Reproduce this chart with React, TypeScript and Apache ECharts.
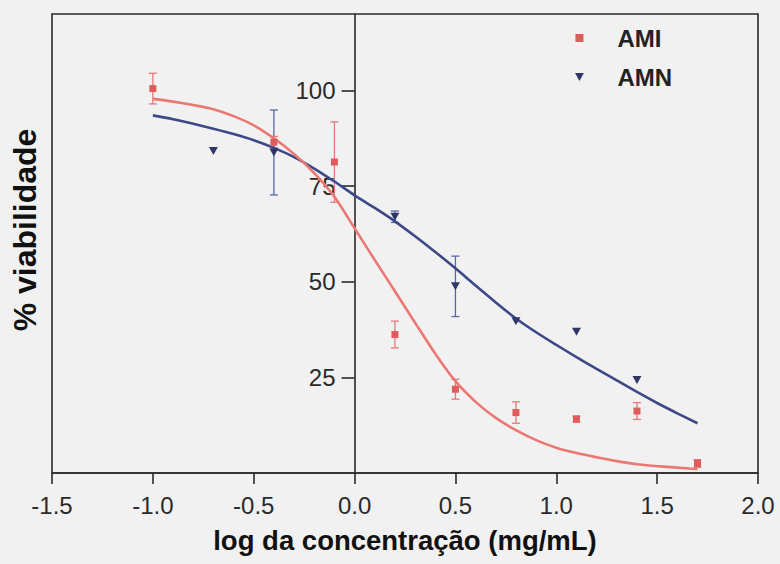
import React, { useEffect, useRef } from 'react';
import * as echarts from 'echarts';

// Axis ticks
const xTicks = [-1.5, -1.0, -0.5, 0.0, 0.5, 1.0, 1.5, 2.0];
const yTicks = [25, 50, 75, 100];

// AMI measured points (mean, error)
const amiX = [-1.0, -0.4, -0.1, 0.2, 0.5, 0.8, 1.1, 1.4, 1.7];
const amiY = [100.5, 86.5, 81.3, 36.2, 21.9, 15.8, 14.1, 16.2, 2.5];
const amiErr = [4.0, 1.5, 10.5, 3.5, 2.6, 2.8, 0.8, 2.2, 1.0];

// AMN measured points (mean, error)
const amnX = [-0.7, -0.4, 0.2, 0.5, 0.8, 1.1, 1.4];
const amnY = [84.2, 83.8, 67.0, 48.8, 39.7, 36.9, 24.3];
const amnErr = [0, 11.1, 1.5, 7.9, 0, 0, 0];

// Fitted curves (every 0.1 on the x axis)
const fitX = [-1.0, -0.9, -0.8, -0.7, -0.6, -0.5, -0.4, -0.3, -0.2, -0.1, 0.0, 0.1, 0.2, 0.3, 0.4, 0.5, 0.6, 0.7, 0.8, 0.9, 1.0, 1.1, 1.2, 1.3, 1.4, 1.5, 1.6, 1.7];
const amiFit = [97.8, 97.1, 96.2, 95.1, 93.3, 90.9, 87.5, 83.4, 78.4, 72.2, 64.0, 55.7, 47.5, 39.3, 31.2, 24.0, 18.6, 14.4, 11.2, 8.6, 6.6, 5.2, 4.1, 3.1, 2.3, 1.8, 1.4, 1.0];
const amnFit = [93.5, 92.5, 91.3, 90.0, 88.6, 87.0, 85.0, 82.6, 79.6, 76.2, 72.6, 69.3, 65.8, 61.9, 57.8, 53.5, 49.0, 44.6, 40.4, 36.8, 33.5, 30.3, 27.2, 24.2, 21.2, 18.3, 15.6, 13.0];

const AMI_LINE = '#ec7874';
const AMI_MARK = '#e05c5c';
const AMI_BAR = '#e37a7a';
const AMN_LINE = '#3d4887';
const AMN_MARK = '#2e3868';
const AMN_BAR = '#5a68a6';
const FONT = '"Liberation Sans", Arial, Helvetica, sans-serif';

const X_MIN = -1.5;
const X_MAX = 2.0;
const GRID_LEFT = 52;
const GRID_RIGHT = 22;
const CHART_W = 780;
// shift of the y axis so that it sits at x = 0
const yAxisShift = ((0 - X_MIN) / (X_MAX - X_MIN)) * (CHART_W - GRID_LEFT - GRID_RIGHT);

function errorBars(name: string, xs: number[], ys: number[], es: number[], color: string) {
  return {
    type: 'custom',
    name,
    z: 2,
    dimensions: ['x', 'y', 'e'],
    encode: { x: 0, y: 1 },
    data: xs.map((x, i) => [x, ys[i], es[i]]),
    renderItem: (params: any, api: any) => {
      const x = api.value(0);
      const y = api.value(1);
      const e = api.value(2);
      if (!e || e <= 0) return { type: 'group', children: [] };
      const top = api.coord([x, y + e]);
      const bot = api.coord([x, y - e]);
      const hw = 4;
      const style = { stroke: color, lineWidth: 1.3 };
      return {
        type: 'group',
        children: [
          { type: 'line', shape: { x1: top[0], y1: top[1], x2: bot[0], y2: bot[1] }, style },
          { type: 'line', shape: { x1: top[0] - hw, y1: top[1], x2: top[0] + hw, y2: top[1] }, style },
          { type: 'line', shape: { x1: bot[0] - hw, y1: bot[1], x2: bot[0] + hw, y2: bot[1] }, style },
        ],
      };
    },
  };
}

export default function App() {
  const ref = useRef<HTMLDivElement>(null);
  useEffect(() => {
    if (!ref.current) return;
    const chart = echarts.init(ref.current, undefined, { renderer: 'svg' });
    const option: any = {
      animation: false,
      backgroundColor: '#f1f1f1',
      grid: {
        left: GRID_LEFT,
        right: GRID_RIGHT,
        top: 14,
        bottom: 91,
        show: true,
        borderColor: '#2a2a2a',
        borderWidth: 1.6,
        backgroundColor: 'transparent',
      },
      xAxis: {
        type: 'value',
        min: X_MIN,
        max: X_MAX,
        interval: 0.5,
        splitLine: { show: false },
        axisLine: { show: true, onZero: false, lineStyle: { color: '#2a2a2a', width: 1.6 } },
        axisTick: { show: true, length: 11, lineStyle: { color: '#2a2a2a', width: 1.6 } },
        axisLabel: {
          margin: 20,
          fontSize: 24,
          fontFamily: FONT,
          color: '#2a2a2a',
          formatter: (v: number) => (xTicks.indexOf(v) >= 0 ? v.toFixed(1) : ''),
        },
      },
      yAxis: {
        type: 'value',
        position: 'left',
        offset: -yAxisShift,
        min: 0,
        max: 120,
        interval: 25,
        splitLine: { show: false },
        axisLine: { show: true, onZero: false, lineStyle: { color: '#2a2a2a', width: 1.6 } },
        axisTick: { show: true, length: 13, lineStyle: { color: '#2a2a2a', width: 1.6 } },
        axisLabel: {
          showMinLabel: false,
          showMaxLabel: false,
          hideOverlap: false,
          margin: 19,
          fontSize: 24,
          fontFamily: FONT,
          color: '#2a2a2a',
          formatter: (v: number) => (yTicks.indexOf(v) >= 0 ? String(v) : ''),
        },
      },
      legend: {
        orient: 'vertical',
        left: 575,
        top: 26,
        padding: 0,
        itemGap: 15,
        itemWidth: 66,
        itemHeight: 8,
        symbolKeepAspect: true,
        selectedMode: false,
        textStyle: { fontSize: 24, fontWeight: 'bold', fontFamily: FONT, color: '#222' },
        data: [
          { name: 'AMI', icon: 'path://M0,0H10V10H0Z', itemStyle: { color: AMI_MARK } },
          { name: 'AMN', icon: 'path://M0,0H10L5,9Z', itemStyle: { color: AMN_MARK } },
        ],
      },
      graphic: [
        {
          type: 'text',
          x: 405,
          y: 540,
          style: {
            text: 'log da concentração (mg/mL)',
            fontSize: 27.5,
            fontWeight: 'bold',
            fontFamily: FONT,
            fill: '#111',
            align: 'center',
            verticalAlign: 'middle',
          },
        },
        {
          type: 'text',
          x: 25,
          y: 230,
          rotation: Math.PI / 2,
          style: {
            text: '% viabilidade',
            fontSize: 32,
            fontWeight: 'bold',
            fontFamily: FONT,
            fill: '#111',
            align: 'center',
            verticalAlign: 'middle',
          },
        },
      ],
      series: [
        errorBars('AMN erro', amnX, amnY, amnErr, AMN_BAR),
        errorBars('AMI erro', amiX, amiY, amiErr, AMI_BAR),
        {
          type: 'line',
          name: 'AMN ajuste',
          z: 3,
          smooth: 0.3,
          showSymbol: false,
          data: fitX.map((x, i) => [x, amnFit[i]]),
          lineStyle: { color: AMN_LINE, width: 2.6 },
          itemStyle: { color: AMN_LINE },
        },
        {
          type: 'line',
          name: 'AMI ajuste',
          z: 3,
          smooth: 0.3,
          showSymbol: false,
          data: fitX.map((x, i) => [x, amiFit[i]]),
          lineStyle: { color: AMI_LINE, width: 2.6 },
          itemStyle: { color: AMI_LINE },
        },
        {
          type: 'scatter',
          name: 'AMN',
          z: 4,
          symbol: 'path://M0,0H10L5,9Z',
          symbolSize: [9, 8],
          data: amnX.map((x, i) => [x, amnY[i]]),
          itemStyle: { color: AMN_MARK, opacity: 1 },
        },
        {
          type: 'scatter',
          name: 'AMI',
          z: 5,
          symbol: 'rect',
          symbolSize: 7,
          data: amiX.map((x, i) => [x, amiY[i]]),
          itemStyle: { color: AMI_MARK, opacity: 1 },
        },
      ],
    };
    chart.setOption(option);
    return () => chart.dispose();
  }, []);
  return <div ref={ref} style={{ position: 'fixed', left: 0, top: 0, width: 780, height: 564 }} />;
}
